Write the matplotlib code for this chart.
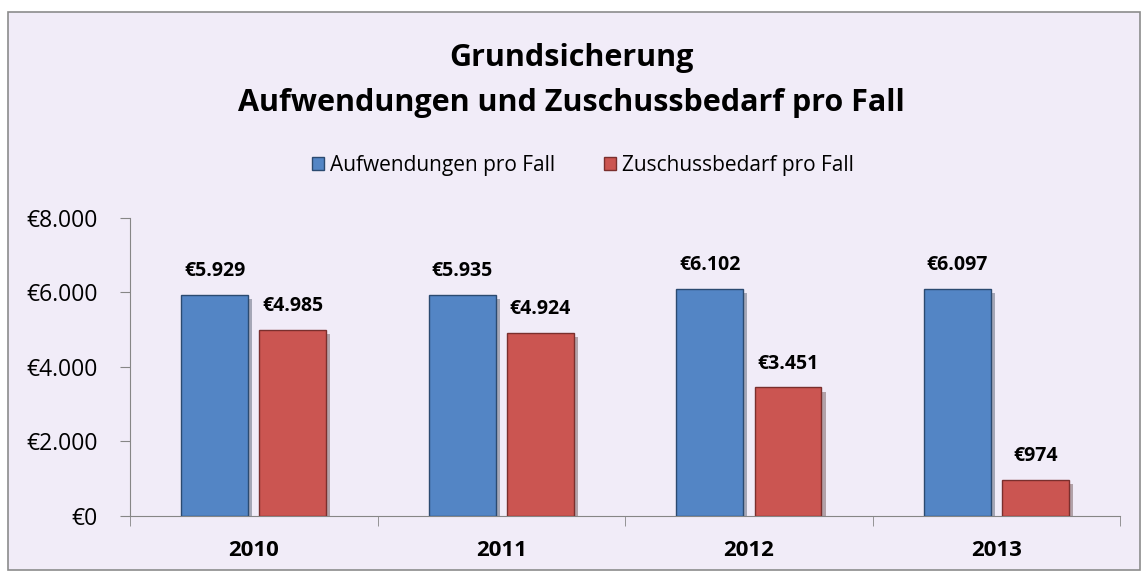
import numpy as np
import matplotlib.pyplot as plt
import matplotlib.patheffects as pe
from matplotlib.patches import Rectangle, Patch

# Daten
jahre = ["2010", "2011", "2012", "2013"]
aufwendungen = [5929, 5935, 6102, 6097]
zuschuss = [4985, 4924, 3451, 974]
y_ticks = [0, 2000, 4000, 6000, 8000]

def euro(v):
    return "€" + f"{v:,.0f}".replace(",", ".")

plt.rcParams['font.family'] = ['Open Sans', 'DejaVu Sans']

fig = plt.figure(figsize=(11.43, 5.75), dpi=100)
fig.patch.set_facecolor("white")

# Diagrammrahmen
rahmen = Rectangle((0.007, 0.008), 0.99, 0.972, transform=fig.transFigure,
                   facecolor="#F1ECF8", edgecolor="#8C8C8C", linewidth=1.2, zorder=-10)
fig.add_artist(rahmen)

ax = fig.add_axes([0.1137, 0.1026, 0.8663, 0.5183])
ax.set_facecolor("none")

blau, blau_rand = "#5385C5", "#2B4A70"
rot, rot_rand = "#CB5551", "#7A2F2D"

x = np.arange(len(jahre))
w = 0.27
off = 0.158
schatten = [pe.SimplePatchShadow(offset=(3, -3), alpha=0.35), pe.Normal()]
b1 = ax.bar(x - off, aufwendungen, w, color=blau, edgecolor=blau_rand,
            linewidth=1.0, zorder=3)
b2 = ax.bar(x + off, zuschuss, w, color=rot, edgecolor=rot_rand,
            linewidth=1.0, zorder=3)
for b in list(b1) + list(b2):
    b.set_path_effects(schatten)

for bars, vals in [(b1, aufwendungen), (b2, zuschuss)]:
    for b, v in zip(bars, vals):
        ax.annotate(euro(v), (b.get_x() + b.get_width() / 2, v),
                    xytext=(0, 10), textcoords="offset points",
                    ha="center", va="bottom", fontsize=14, fontweight="bold")

ax.set_xlim(-0.5, len(jahre) - 0.5)
ax.set_ylim(0, 8000)
ax.set_yticks(y_ticks)
ax.set_yticklabels([euro(v) for v in y_ticks], fontsize=16.5)
ax.set_xticks(x)
ax.set_xticklabels(jahre, fontsize=16, fontweight="bold")
ax.tick_params(axis="x", which="major", length=0, pad=17)
ax.set_xticks(np.arange(len(jahre) + 1) - 0.5, minor=True)
ax.tick_params(axis="x", which="minor", length=7, color="#868686")
ax.tick_params(axis="y", length=7, color="#868686", pad=16)

for s in ["top", "right"]:
    ax.spines[s].set_visible(False)
for s in ["left", "bottom"]:
    ax.spines[s].set_color("#868686")

fig.text(0.5, 0.899, "Grundsicherung", ha="center", va="center",
         fontsize=22, fontweight="bold")
fig.text(0.5, 0.821, "Aufwendungen und Zuschussbedarf pro Fall", ha="center",
         va="center", fontsize=22, fontweight="bold")

handles = [Patch(facecolor=blau, edgecolor=blau_rand, label="Aufwendungen pro Fall"),
           Patch(facecolor=rot, edgecolor=rot_rand, label="Zuschussbedarf pro Fall")]
fig.legend(handles=handles, loc="center", bbox_to_anchor=(0.51, 0.713),
           ncol=2, frameon=False, fontsize=15, handlelength=0.6,
           handleheight=0.6, handletextpad=0.3, columnspacing=2.3)

fig.savefig("out.png", dpi=100)
